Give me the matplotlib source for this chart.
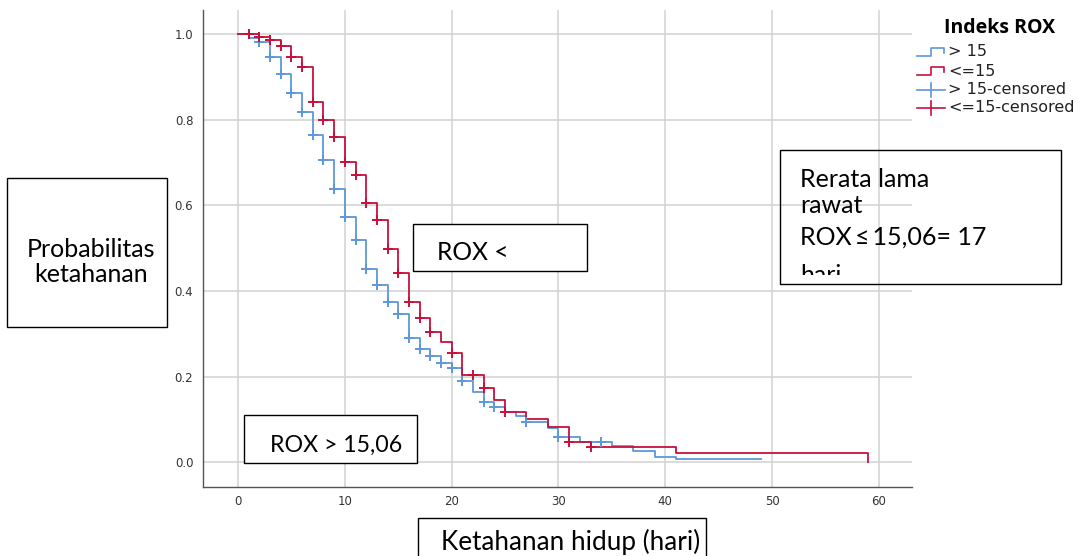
import numpy as np
import matplotlib
matplotlib.use("Agg")
import matplotlib.pyplot as plt
from matplotlib.patches import Rectangle
from matplotlib.lines import Line2D

# ---- data ----
blue_t = [0, 1, 2, 3, 4, 5, 6, 7, 8, 9, 10, 11, 12, 13, 14, 15, 16, 17, 18, 19,
          20, 21, 22, 23, 24, 25, 26, 27, 29, 30, 32, 35, 37, 39, 41, 49]
blue_s = [1.0, 0.99, 0.981, 0.946, 0.907, 0.862, 0.818, 0.764, 0.705, 0.637,
          0.573, 0.52, 0.45, 0.413, 0.374, 0.345, 0.29, 0.264, 0.248, 0.231,
          0.22, 0.19, 0.164, 0.14, 0.128, 0.118, 0.107, 0.093, 0.08, 0.058,
          0.047, 0.037, 0.026, 0.012, 0.007, 0.007]
blue_cens = [2, 3, 4, 5, 6, 7, 8, 9, 10, 11, 12, 13, 14, 15, 16, 17, 18, 19, 20,
             21, 23, 24, 27, 30, 34]

red_t = [0, 2, 3, 4, 5, 6, 7, 8, 9, 10, 11, 12, 13, 14, 15, 16, 17, 18, 19, 20,
         21, 23, 24, 25, 27, 29, 31, 33, 41, 59]
red_s = [1.0, 0.993, 0.986, 0.972, 0.946, 0.923, 0.841, 0.80, 0.759, 0.70, 0.67,
         0.605, 0.565, 0.497, 0.441, 0.374, 0.336, 0.304, 0.28, 0.255, 0.203,
         0.173, 0.145, 0.117, 0.10, 0.082, 0.047, 0.035, 0.021, 0.0]
red_cens = [1, 2, 3, 4, 5, 6, 7, 8, 9, 10, 11, 12, 13, 14, 15, 16, 17, 18, 20,
            22, 23, 25, 31, 33]

x_ticks = [0, 10, 20, 30, 40, 50, 60]
y_ticks = [0.0, 0.2, 0.4, 0.6, 0.8, 1.0]
legend_title = "Indeks ROX"
legend_labels = ["> 15", "<=15", "> 15-censored", "<=15-censored"]

BLUE = "#5e97da"
RED = "#c8103c"
BOXFONT = ["Lato", "DejaVu Sans"]


def step_value(t, s, x):
    i = np.searchsorted(np.asarray(t), x, side="right") - 1
    return np.asarray(s)[i]


W, H = 1083, 556
fig = plt.figure(figsize=(W / 100, H / 100), dpi=100)
fig.patch.set_facecolor("white")

def fx(px):
    return px / W

def fy(py):
    return 1 - py / H

ax = fig.add_axes([fx(203), fy(487), fx(912) - fx(203), fy(10) - fy(487)])
ax.set_xlim(-3.28, 63.1)
ax.set_ylim(-0.058, 1.056)

ax.step(blue_t, blue_s, where="post", color=BLUE, lw=1.3, zorder=3)
ax.step(red_t, red_s, where="post", color=RED, lw=1.3, zorder=4)
bc = np.array(blue_cens)
rc = np.array(red_cens)
ax.plot(bc, step_value(blue_t, blue_s, bc), ls="none", marker="+", ms=7.5,
        mew=1.4, color=BLUE, zorder=5)
ax.plot(rc, step_value(red_t, red_s, rc), ls="none", marker="+", ms=7.5,
        mew=1.4, color=RED, zorder=6)

ax.set_xticks(x_ticks)
ax.set_yticks(y_ticks)
ax.set_xticklabels([str(v) for v in x_ticks])
ax.set_yticklabels([f"{v:.1f}" for v in y_ticks])
ax.tick_params(axis="both", length=0, labelsize=8.5, labelcolor="#333333")
ax.tick_params(axis="y", pad=7)
ax.tick_params(axis="x", pad=6)
ax.grid(True, color="#d2d2d2", lw=1.1, zorder=0)
ax.set_axisbelow(True)
for side in ["top", "right"]:
    ax.spines[side].set_visible(False)
for side in ["left", "bottom"]:
    ax.spines[side].set_color("#555555")
    ax.spines[side].set_linewidth(1.0)


def rect(x0, y0, x1, y1, fill=True, z=10, draw=True):
    r = Rectangle((fx(x0), fy(y1)), fx(x1) - fx(x0), fy(y0) - fy(y1),
                  transform=fig.transFigure, facecolor="white" if fill else "none",
                  edgecolor="black", lw=1.0, zorder=z)
    if draw:
        fig.add_artist(r)
    return r

# Probabilitas ketahanan
rect(7, 178, 167, 327)
fig.text(fx(91), fy(262), "Probabilitas\nketahanan", ha="center", va="center",
         fontsize=18, family=BOXFONT, linespacing=1.15, zorder=11)

# ROX <
rect(413, 224, 587, 271)
fig.text(fx(437), fy(252), "ROX <", ha="left", va="center", fontsize=17.7,
         family=BOXFONT, zorder=11)

# ROX > 15,06
rect(244, 415, 417, 463)
fig.text(fx(270), fy(445), "ROX > 15,06", ha="left", va="center", fontsize=16.7,
         family=BOXFONT, zorder=11)

# x axis label box
rect(418, 518, 706, 560)
fig.text(fx(441), fy(542), "Ketahanan hidup (hari)", ha="left", va="center",
         fontsize=18.8, family=BOXFONT, zorder=11)

# Rerata box (transparent, text clipped at the inner margin)
rect(780, 150, 1061, 284, fill=False)
clip = rect(780, 150, 1061, 275, draw=False)
lines_txt = ["Rerata lama", "rawat", "ROX\u2009\u2264\u200915,06= 17", "hari"]
line_base = [187, 213, 245, 283]
for s, yy in zip(lines_txt, line_base):
    t = fig.text(fx(800), fy(yy), s, ha="left", va="baseline", fontsize=18,
                 family=BOXFONT, zorder=11)
    t.set_clip_on(True)
    t.set_clip_path(clip)

# Legend (drawn manually)
fig.text(fx(1000), fy(28), legend_title, ha="center", va="center",
         fontsize=14, fontweight="bold", family=["Open Sans", "DejaVu Sans"])
row_y = [52, 71, 90, 108]
cols = [BLUE, RED, BLUE, RED]
for i, (lab, yy, c) in enumerate(zip(legend_labels, row_y, cols)):
    if i < 2:
        xs = [fx(917), fx(931), fx(931), fx(944), fx(944)]
        ys = [fy(yy + 4), fy(yy + 4), fy(yy - 4), fy(yy - 4), fy(yy + 1)]
        fig.add_artist(Line2D(xs, ys, color=c, lw=1.2, transform=fig.transFigure))
    else:
        fig.add_artist(Line2D([fx(917), fx(945)], [fy(yy), fy(yy)], color=c, lw=1.2,
                              transform=fig.transFigure))
        fig.add_artist(Line2D([fx(931), fx(931)], [fy(yy - 7), fy(yy + 7)], color=c,
                              lw=1.2, transform=fig.transFigure))
    fig.text(fx(948), fy(yy), lab, ha="left", va="center", fontsize=11.5,
             color="#222222")

fig.savefig("out.png", dpi=100)
